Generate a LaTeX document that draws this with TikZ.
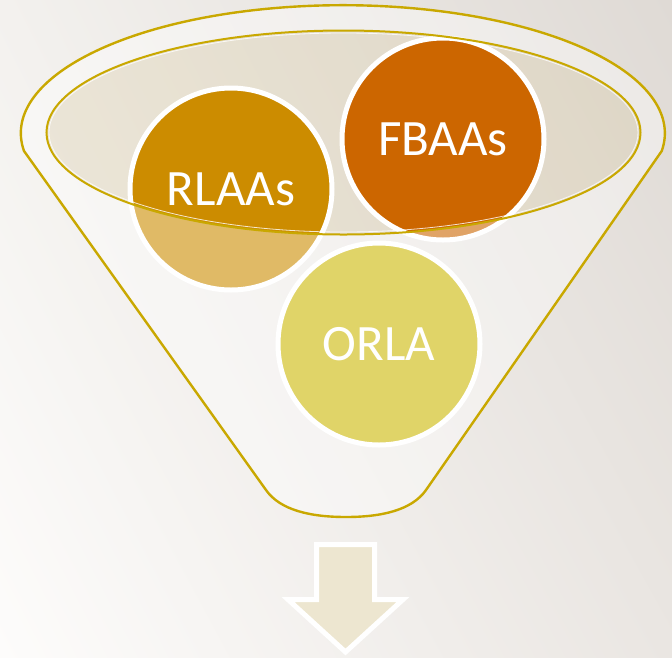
\documentclass[tikz,border=0pt]{standalone}
\usepackage{fontspec}
\setmainfont{Carlito}
\usetikzlibrary{shadings}
\definecolor{gold}{HTML}{C9A800}
\definecolor{bgA}{HTML}{FDFCFB}
\definecolor{bgB}{HTML}{F3F1EE}
\definecolor{bgC}{HTML}{DFDAD5}
\definecolor{bgD}{HTML}{EAE6E2}
\definecolor{tan}{HTML}{D8C9A0}
\definecolor{cRL}{HTML}{CC8C00}
\definecolor{cFB}{HTML}{CC6600}
\definecolor{cOR}{HTML}{CCB804}
\definecolor{arrowfill}{HTML}{EDE6D0}
\tikzset{
  bubble/.style={circle, draw=white, line width=5pt, minimum size=202pt, inner sep=0pt,
    text=white, font=\fontsize{51}{51}\selectfont},
  funneledge/.style={draw=gold, line width=2.4pt, line join=round},
  rimedge/.style={draw=gold, line width=2pt},
}
\begin{document}
\begin{tikzpicture}[x=1pt,y=-1pt]
\useasboundingbox (0,0) rectangle (672,657);
% background
\shade[upper left=bgB, upper right=bgC, lower left=bgA, lower right=bgD] (0,0) rectangle (672,657);
% inner ellipse tint (behind circles)
\fill[tan, opacity=0.3] (343.5,132.5) ellipse [x radius=297, y radius=102];
% circles
\node[bubble, fill=cRL] (rlaas) at (231,189) {RLAAs};
\node[bubble, fill=cFB] (fbaas) at (443,139) {FBAAs};
\node[bubble, fill=cOR] (orla) at (379,344) {ORLA};
% front of funnel: translucent white overlay outside the inner ellipse
\fill[white, opacity=0.4, even odd rule]
  (24,151) arc[start angle=172, end angle=368, x radius=322, y radius=128]
  -- (426,490) .. controls (412,510) and (382,517) .. (346,517)
  .. controls (310,517) and (280,510) .. (266,490) -- cycle
  (343.5,132.5) ellipse [x radius=297, y radius=102];
% outlines
\draw[funneledge]
  (24,151) arc[start angle=172, end angle=368, x radius=322, y radius=128]
  -- (426,490) .. controls (412,510) and (382,517) .. (346,517)
  .. controls (310,517) and (280,510) .. (266,490) -- cycle;
\draw[white, line width=0.8pt, opacity=0.8] (343.5,132.5) ellipse [x radius=294.5, y radius=99.5];
\draw[rimedge] (343.5,132.5) ellipse [x radius=297, y radius=102];
% arrow
\draw[white, line width=5pt, fill=arrowfill, line join=miter]
  (316.5,544.5) -- (374.5,544.5) -- (374.5,599.5) -- (403,599.5) -- (345.5,652)
  -- (288,599.5) -- (316.5,599.5) -- cycle;
\end{tikzpicture}
\end{document}
